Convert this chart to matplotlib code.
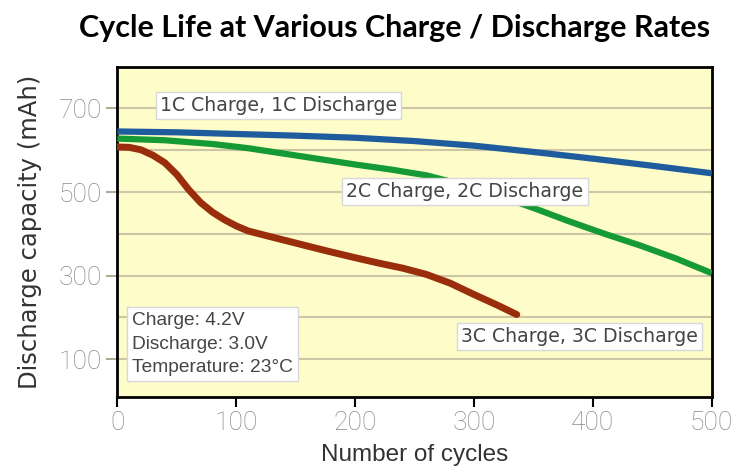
import matplotlib
matplotlib.use("Agg")
import matplotlib.pyplot as plt

# values
cycles_1c = [0, 50, 100, 150, 200, 250, 300, 350, 400, 450, 500]
cap_1c = [645, 643, 639, 635, 630, 622, 611, 596, 580, 563, 545]

cycles_2c = [0, 40, 80, 110, 140, 170, 200, 230, 260, 290, 320, 350, 380, 410, 440, 470, 500]
cap_2c = [628, 624, 615, 605, 592, 579, 566, 554, 540, 518, 492, 462, 430, 400, 372, 341, 306]

cycles_3c = [0, 10, 20, 30, 40, 50, 60, 70, 80, 90, 100, 110, 125, 150, 175, 200,
             220, 240, 260, 280, 300, 320, 336]
cap_3c = [608, 607, 601, 588, 570, 542, 506, 475, 452, 434, 419, 407, 396, 378, 360, 343,
          330, 318, 303, 282, 255, 229, 207]

x_ticks = [0, 100, 200, 300, 400, 500]
y_ticks = [100, 300, 500, 700]
y_grid = [100, 200, 300, 400, 500, 600, 700]

labels = ["1C Charge, 1C Discharge", "2C Charge, 2C Discharge", "3C Charge, 3C Discharge"]
conditions = "Charge: 4.2V\nDischarge: 3.0V\nTemperature: 23\u00b0C"

fig = plt.figure(figsize=(7.37, 4.75), dpi=100)
ax = fig.add_axes([0.1592, 0.1636, 0.8065, 0.696])
ax.set_facecolor("#fefcc9")

for g in y_grid:
    ax.axhline(g, color="#cdc6a6", lw=1.5, zorder=1)

ax.plot(cycles_1c, cap_1c, color="#1f5c9e", lw=4.5, solid_capstyle="butt", zorder=3)
ax.plot(cycles_2c, cap_2c, color="#159a35", lw=4.5, solid_capstyle="butt", zorder=3)
ax.plot(cycles_3c, cap_3c, color="#9a2d0c", lw=5, solid_capstyle="round", zorder=3)

box = dict(boxstyle="square,pad=0.22", fc="white", ec="#d8d8d8", lw=1)
txt_kw = dict(fontsize=13.6, color="#454545", family="DejaVu Sans", va="center", ha="center",
              zorder=5, bbox=box)
ax.text(135.6, 707, labels[0], **txt_kw)
ax.text(292.5, 502, labels[1], **txt_kw)
ax.text(389, 154, labels[2], **txt_kw)

ax.text(12.5, 136, conditions, fontsize=13.8, color="#454545", family="Liberation Sans",
        va="center", ha="left", linespacing=1.5, zorder=5,
        bbox=dict(boxstyle="square,pad=0.25", fc="white", ec="#d8d8d8", lw=1))

ax.set_xlim(0, 500)
ax.set_ylim(9, 800)
ax.set_xticks(x_ticks)
ax.set_yticks(y_ticks)
ax.tick_params(axis="x", direction="out", length=7, width=1.5, color="black",
               labelsize=19, labelcolor="#8a8a8a", pad=3)
ax.tick_params(axis="y", direction="out", length=8, width=1.5, color="#b0ab98",
               labelsize=19, labelcolor="#8a8a8a", pad=3)
for lab in ax.get_xticklabels() + ax.get_yticklabels():
    lab.set_family("Roboto")
    lab.set_fontweight("light")

for s in ax.spines.values():
    s.set_color("black")
    s.set_linewidth(2)

ax.set_xlabel("Number of cycles", fontsize=17.5, color="#333333", family="Liberation Sans", labelpad=6)
ax.set_ylabel("Discharge capacity (mAh)", fontsize=17.5, color="#333333", family="DejaVu Sans", labelpad=12)

fig.suptitle("Cycle Life at Various Charge / Discharge Rates", x=0.536, y=0.97,
             fontsize=22, fontweight="bold", family="Lato", color="black")

fig.savefig("out.png", dpi=100, facecolor="white")
